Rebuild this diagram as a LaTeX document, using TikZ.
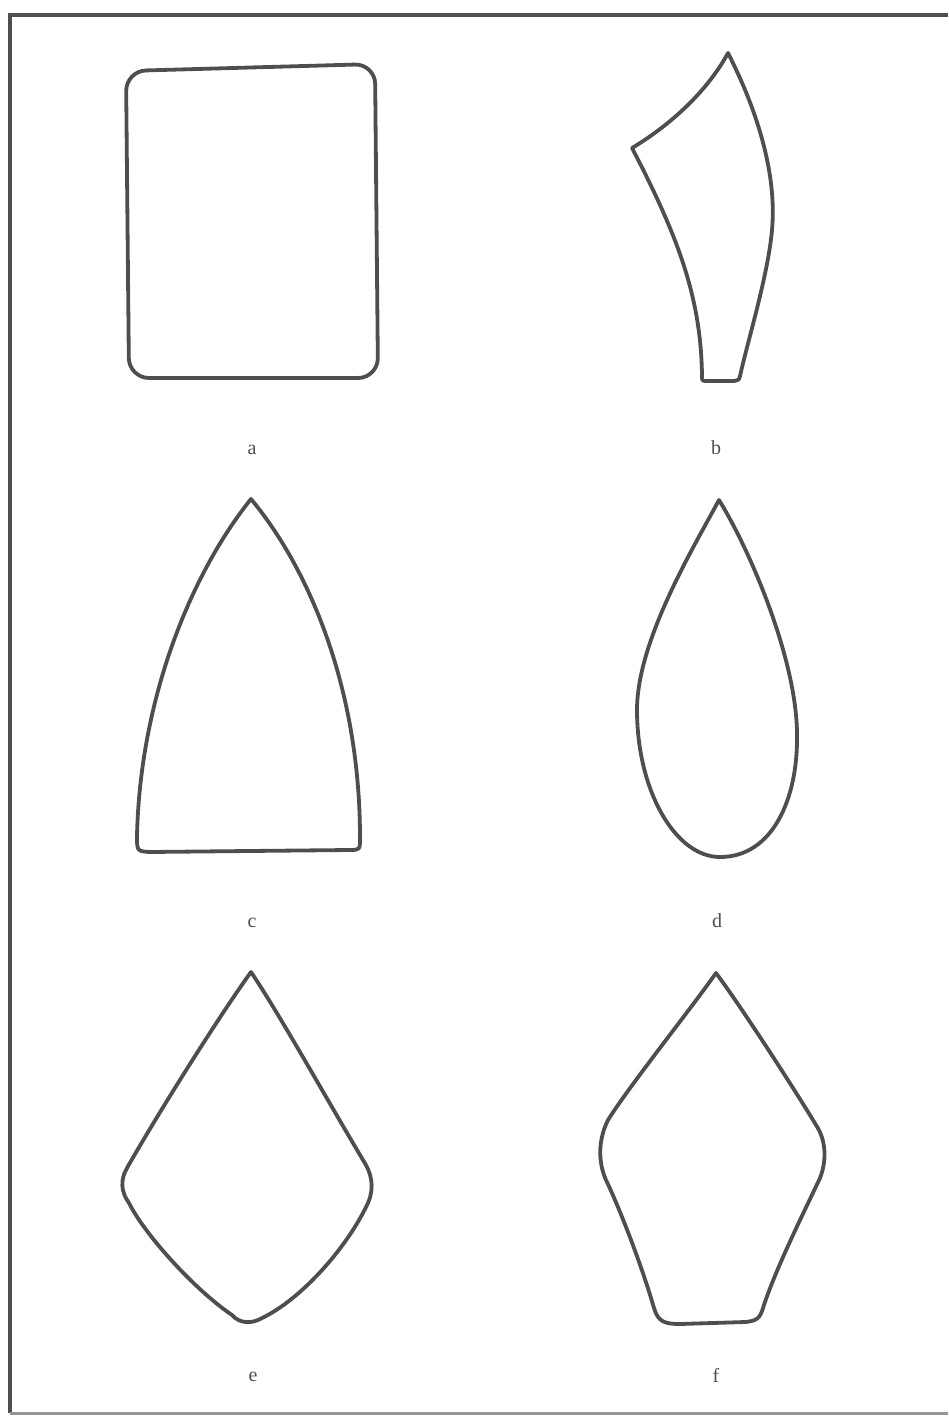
\documentclass[tikz,border=0pt]{standalone}
\usepackage{fontspec}
\setmainfont{Liberation Serif}
\usepackage{tikz}
\definecolor{ink}{RGB}{78,78,78}
\definecolor{faint}{RGB}{150,150,150}
\begin{document}
\begin{tikzpicture}[x=1pt,y=-1pt,
  outline/.style={draw=ink, line width=3.8pt, line join=round, line cap=round},
  frameline/.style={draw=ink, line width=4pt},
  lab/.style={text=ink, inner sep=0pt, font=\fontsize{20}{24}\selectfont}]
\useasboundingbox (0,0) rectangle (948,1416);
% frame
\draw[frameline] (948,15) -- (10,15) -- (10,1413);
\draw[draw=faint, line width=3pt] (10,1413) -- (948,1413);
% a
\draw[outline, rounded corners=20pt] (126,71) -- (375,64) -- (378,378) -- (129,378) -- cycle;
% b
\draw[outline] (632,148) .. controls (672,124) and (708,90) .. (728,53)
  .. controls (758,112) and (777,175) .. (772,230)
  .. controls (768,275) and (748,340) .. (740,376)
  .. controls (739,380) .. (734,381) -- (708,381)
  .. controls (702,381) .. (702,376)
  .. controls (701,300) and (680,240) .. (632,148) -- cycle;
% c
\draw[outline] (251,499) .. controls (190,575) and (140,700) .. (137,836)
  .. controls (137,851) .. (149,852) -- (349,850)
  .. controls (360,850) .. (360,838)
  .. controls (360,690) and (310,570) .. (251,499) -- cycle;
% d
\draw[outline] (719,500) .. controls (695,545) and (637,640) .. (637,710)
  .. controls (637,790) and (675,857) .. (720,857)
  .. controls (773,857) and (798,798) .. (797,735)
  .. controls (797,660) and (750,550) .. (719,500) -- cycle;
% e
\draw[outline] (251,972) .. controls (220,1015) and (160,1110) .. (127,1168)
  .. controls (120,1180) and (121,1192) .. (129,1203)
  .. controls (145,1235) and (195,1290) .. (232,1315)
  .. controls (240,1324) and (252,1324) .. (262,1318)
  .. controls (300,1300) and (345,1250) .. (366,1207)
  .. controls (374,1192) and (373,1178) .. (366,1165)
  .. controls (330,1105) and (280,1015) .. (251,972) -- cycle;
% f
\draw[outline] (716,973) .. controls (690,1010) and (630,1085) .. (608,1120)
  .. controls (598,1140) and (598,1162) .. (606,1180)
  .. controls (618,1205) and (640,1260) .. (654,1308)
  .. controls (658,1322) and (665,1324) .. (680,1324) -- (745,1322)
  .. controls (757,1321) and (760,1318) .. (763,1308)
  .. controls (775,1270) and (805,1210) .. (820,1178)
  .. controls (827,1160) and (826,1140) .. (816,1125)
  .. controls (795,1090) and (740,1005) .. (716,973) -- cycle;
% labels
\node[lab] (la) at (252,450) {a};
\node[lab] (lb) at (716,448) {b};
\node[lab] (lc) at (252,923) {c};
\node[lab] (ld) at (717,921) {d};
\node[lab] (le) at (253,1377) {e};
\node[lab] (lf) at (716,1375) {f};
\end{tikzpicture}
\end{document}
